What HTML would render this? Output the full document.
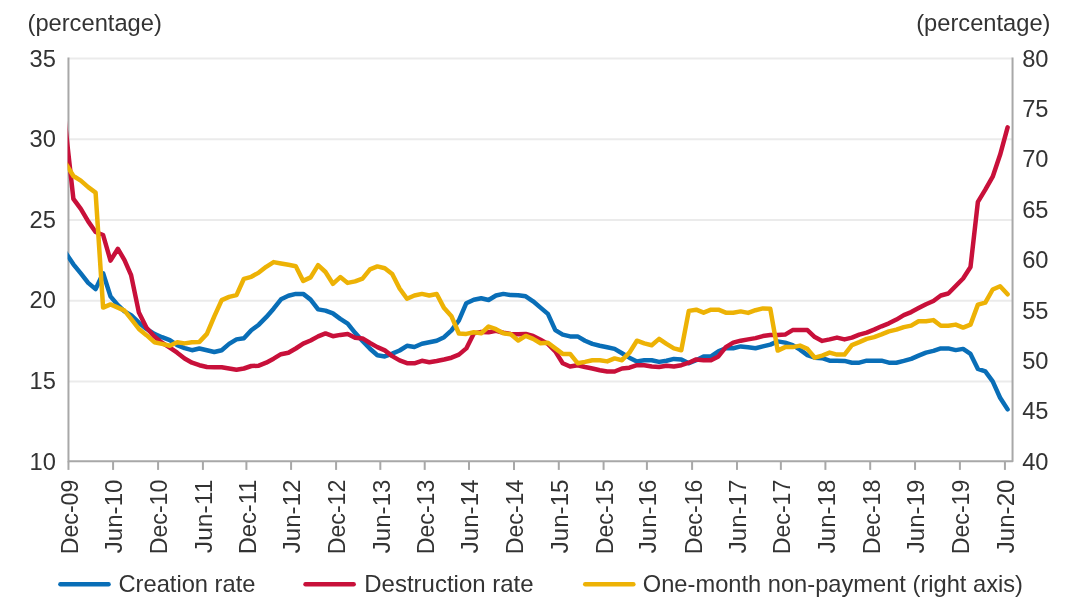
<!DOCTYPE html>
<html lang="en"><head><meta charset="utf-8"><title>Creation, destruction and non-payment rates</title>
<style>html,body{margin:0;padding:0;background:#fff}svg{display:block}</style></head>
<body>
<svg width="1080" height="599" viewBox="0 0 1080 599" font-family='"Liberation Sans", sans-serif' fill="#333333">
<rect width="1080" height="599" fill="#ffffff"/>
<line x1="68.46" x2="1012.55" y1="58.40" y2="58.40" stroke="#ebebeb" stroke-width="2"/>
<line x1="68.46" x2="1012.55" y1="139.35" y2="139.35" stroke="#ebebeb" stroke-width="2"/>
<line x1="68.46" x2="1012.55" y1="220.00" y2="220.00" stroke="#ebebeb" stroke-width="2"/>
<line x1="68.46" x2="1012.55" y1="300.70" y2="300.70" stroke="#ebebeb" stroke-width="2"/>
<line x1="68.46" x2="1012.55" y1="381.40" y2="381.40" stroke="#ebebeb" stroke-width="2"/>
<line x1="68.46" x2="68.46" y1="57.5" y2="462.2" stroke="#a8a8a8" stroke-width="2"/>
<polyline points="68.46,461.3 1012.55,461.3 1012.55,57.5" fill="none" stroke="#a8a8a8" stroke-width="2" stroke-linejoin="round"/>
<line x1="68.46" x2="68.46" y1="461.3" y2="469.90" stroke="#a8a8a8" stroke-width="2"/>
<text class="xl" transform="translate(77.86,479.6) rotate(-90)" text-anchor="end" font-size="23.2" textLength="74.75" lengthAdjust="spacingAndGlyphs">Dec-09</text>
<line x1="113.08" x2="113.08" y1="461.3" y2="469.90" stroke="#a8a8a8" stroke-width="2"/>
<text class="xl" transform="translate(122.48,479.6) rotate(-90)" text-anchor="end" font-size="23.2" textLength="73.60" lengthAdjust="spacingAndGlyphs">Jun-10</text>
<line x1="158.08" x2="158.08" y1="461.3" y2="469.90" stroke="#a8a8a8" stroke-width="2"/>
<text class="xl" transform="translate(167.48,479.6) rotate(-90)" text-anchor="end" font-size="23.2" textLength="74.75" lengthAdjust="spacingAndGlyphs">Dec-10</text>
<line x1="202.90" x2="202.90" y1="461.3" y2="469.90" stroke="#a8a8a8" stroke-width="2"/>
<text class="xl" transform="translate(212.30,479.6) rotate(-90)" text-anchor="end" font-size="23.2" textLength="73.60" lengthAdjust="spacingAndGlyphs">Jun-11</text>
<line x1="246.40" x2="246.40" y1="461.3" y2="469.90" stroke="#a8a8a8" stroke-width="2"/>
<text class="xl" transform="translate(255.80,479.6) rotate(-90)" text-anchor="end" font-size="23.2" textLength="74.75" lengthAdjust="spacingAndGlyphs">Dec-11</text>
<line x1="291.08" x2="291.08" y1="461.3" y2="469.90" stroke="#a8a8a8" stroke-width="2"/>
<text class="xl" transform="translate(300.48,479.6) rotate(-90)" text-anchor="end" font-size="23.2" textLength="73.60" lengthAdjust="spacingAndGlyphs">Jun-12</text>
<line x1="336.08" x2="336.08" y1="461.3" y2="469.90" stroke="#a8a8a8" stroke-width="2"/>
<text class="xl" transform="translate(345.48,479.6) rotate(-90)" text-anchor="end" font-size="23.2" textLength="74.75" lengthAdjust="spacingAndGlyphs">Dec-12</text>
<line x1="380.32" x2="380.32" y1="461.3" y2="469.90" stroke="#a8a8a8" stroke-width="2"/>
<text class="xl" transform="translate(389.72,479.6) rotate(-90)" text-anchor="end" font-size="23.2" textLength="73.60" lengthAdjust="spacingAndGlyphs">Jun-13</text>
<line x1="424.71" x2="424.71" y1="461.3" y2="469.90" stroke="#a8a8a8" stroke-width="2"/>
<text class="xl" transform="translate(434.11,479.6) rotate(-90)" text-anchor="end" font-size="23.2" textLength="74.75" lengthAdjust="spacingAndGlyphs">Dec-13</text>
<line x1="469.01" x2="469.01" y1="461.3" y2="469.90" stroke="#a8a8a8" stroke-width="2"/>
<text class="xl" transform="translate(478.41,479.6) rotate(-90)" text-anchor="end" font-size="23.2" textLength="73.60" lengthAdjust="spacingAndGlyphs">Jun-14</text>
<line x1="514.00" x2="514.00" y1="461.3" y2="469.90" stroke="#a8a8a8" stroke-width="2"/>
<text class="xl" transform="translate(523.40,479.6) rotate(-90)" text-anchor="end" font-size="23.2" textLength="74.75" lengthAdjust="spacingAndGlyphs">Dec-14</text>
<line x1="558.79" x2="558.79" y1="461.3" y2="469.90" stroke="#a8a8a8" stroke-width="2"/>
<text class="xl" transform="translate(568.19,479.6) rotate(-90)" text-anchor="end" font-size="23.2" textLength="73.60" lengthAdjust="spacingAndGlyphs">Jun-15</text>
<line x1="603.59" x2="603.59" y1="461.3" y2="469.90" stroke="#a8a8a8" stroke-width="2"/>
<text class="xl" transform="translate(612.99,479.6) rotate(-90)" text-anchor="end" font-size="23.2" textLength="74.75" lengthAdjust="spacingAndGlyphs">Dec-15</text>
<line x1="646.90" x2="646.90" y1="461.3" y2="469.90" stroke="#a8a8a8" stroke-width="2"/>
<text class="xl" transform="translate(656.30,479.6) rotate(-90)" text-anchor="end" font-size="23.2" textLength="73.60" lengthAdjust="spacingAndGlyphs">Jun-16</text>
<line x1="692.10" x2="692.10" y1="461.3" y2="469.90" stroke="#a8a8a8" stroke-width="2"/>
<text class="xl" transform="translate(701.50,479.6) rotate(-90)" text-anchor="end" font-size="23.2" textLength="74.75" lengthAdjust="spacingAndGlyphs">Dec-16</text>
<line x1="736.97" x2="736.97" y1="461.3" y2="469.90" stroke="#a8a8a8" stroke-width="2"/>
<text class="xl" transform="translate(746.37,479.6) rotate(-90)" text-anchor="end" font-size="23.2" textLength="73.60" lengthAdjust="spacingAndGlyphs">Jun-17</text>
<line x1="780.86" x2="780.86" y1="461.3" y2="469.90" stroke="#a8a8a8" stroke-width="2"/>
<text class="xl" transform="translate(790.26,479.6) rotate(-90)" text-anchor="end" font-size="23.2" textLength="74.75" lengthAdjust="spacingAndGlyphs">Dec-17</text>
<line x1="825.40" x2="825.40" y1="461.3" y2="469.90" stroke="#a8a8a8" stroke-width="2"/>
<text class="xl" transform="translate(834.80,479.6) rotate(-90)" text-anchor="end" font-size="23.2" textLength="73.60" lengthAdjust="spacingAndGlyphs">Jun-18</text>
<line x1="870.20" x2="870.20" y1="461.3" y2="469.90" stroke="#a8a8a8" stroke-width="2"/>
<text class="xl" transform="translate(879.60,479.6) rotate(-90)" text-anchor="end" font-size="23.2" textLength="74.75" lengthAdjust="spacingAndGlyphs">Dec-18</text>
<line x1="915.05" x2="915.05" y1="461.3" y2="469.90" stroke="#a8a8a8" stroke-width="2"/>
<text class="xl" transform="translate(924.45,479.6) rotate(-90)" text-anchor="end" font-size="23.2" textLength="73.60" lengthAdjust="spacingAndGlyphs">Jun-19</text>
<line x1="959.90" x2="959.90" y1="461.3" y2="469.90" stroke="#a8a8a8" stroke-width="2"/>
<text class="xl" transform="translate(969.30,479.6) rotate(-90)" text-anchor="end" font-size="23.2" textLength="74.75" lengthAdjust="spacingAndGlyphs">Dec-19</text>
<line x1="1004.93" x2="1004.93" y1="461.3" y2="469.90" stroke="#a8a8a8" stroke-width="2"/>
<text class="xl" transform="translate(1014.33,479.6) rotate(-90)" text-anchor="end" font-size="23.2" textLength="73.60" lengthAdjust="spacingAndGlyphs">Jun-20</text>
<defs><clipPath id="pc"><rect x="67.6" y="40" width="946.9499999999999" height="421.3"/></clipPath></defs>
<polyline clip-path="url(#pc)" points="58.6,242.3 66.0,253.3 73.4,264.3 80.8,273.4 88.2,282.9 95.6,289.1 103.1,273.3 110.5,296.4 117.9,305.1 124.5,311.4 131.1,315.1 138.9,322.7 146.5,328.9 154.3,333.9 162.0,337.2 169.8,340.2 177.2,345.2 184.6,348.2 192.0,350.2 199.4,348.5 206.9,350.2 214.3,352.0 221.7,350.2 229.1,343.9 236.5,339.4 243.9,338.2 251.3,330.2 258.8,324.7 266.2,317.2 273.6,308.7 281.0,299.3 288.4,295.8 295.8,293.9 303.2,293.9 310.6,299.6 318.1,309.4 325.5,310.6 332.9,313.4 340.3,318.9 347.7,323.6 355.1,332.8 362.5,340.9 370.0,348.7 377.4,355.3 384.8,356.4 392.2,353.6 399.6,350.5 407.0,345.8 414.4,347.0 421.9,343.8 429.3,342.3 436.7,340.7 444.1,337.2 451.5,330.3 458.9,320.3 466.3,303.2 473.8,299.7 481.2,298.2 488.6,300.0 496.0,295.5 503.4,293.9 510.8,295.1 518.2,295.2 525.7,296.3 533.1,301.3 540.5,307.6 547.9,313.9 555.3,330.1 562.7,334.6 570.1,336.4 577.6,336.4 585.0,340.7 592.4,343.9 599.8,345.7 607.2,347.2 614.6,348.9 622.0,353.2 629.4,357.7 636.9,361.4 644.3,360.2 651.7,360.2 659.1,361.9 666.5,360.7 673.9,358.9 681.3,359.4 688.8,363.2 696.2,360.2 703.6,356.4 711.0,356.4 718.4,351.4 725.8,348.2 733.2,348.2 740.7,346.4 748.1,347.2 755.5,348.2 762.9,346.4 770.3,344.6 777.7,341.4 785.1,342.6 792.6,345.1 800.0,349.6 807.4,355.1 814.8,357.7 822.2,358.2 829.6,360.7 837.0,360.7 844.5,360.9 851.9,362.7 859.3,362.7 866.7,360.7 874.1,360.7 881.5,360.7 888.9,362.7 896.4,362.7 903.8,360.9 911.2,358.9 918.6,355.6 926.0,352.6 933.4,350.9 940.8,348.4 948.3,348.4 955.7,350.1 963.1,348.9 970.5,353.9 977.9,368.9 985.3,371.4 992.7,381.4 1000.1,397.7 1007.6,409.4" fill="none" stroke="#096eb7" stroke-width="4.5" stroke-linejoin="round" stroke-linecap="round"/>
<polyline clip-path="url(#pc)" points="58.6,65.1 66.0,132.0 73.4,198.9 80.8,208.9 88.2,221.4 95.6,232.0 103.1,235.0 110.5,260.6 117.9,248.8 124.5,260.1 131.1,275.1 138.9,312.6 146.5,327.7 154.3,336.4 162.0,342.7 169.8,347.7 177.2,352.7 184.6,358.5 192.0,362.7 199.4,365.2 206.9,367.0 214.3,367.2 221.7,367.2 229.1,368.5 236.5,369.7 243.9,368.5 251.3,366.0 258.8,365.7 266.2,362.7 273.6,358.7 281.0,354.2 288.4,352.8 295.8,348.5 303.2,343.6 310.6,340.5 318.1,336.4 325.5,333.4 332.9,336.2 340.3,334.9 347.7,333.9 355.1,337.7 362.5,338.4 370.0,343.0 377.4,347.1 384.8,350.4 392.2,356.1 399.6,360.4 407.0,363.2 414.4,363.3 421.9,360.8 429.3,362.2 436.7,361.0 444.1,359.5 451.5,357.7 458.9,354.6 466.3,348.4 473.8,333.4 481.2,331.9 488.6,332.2 496.0,330.9 503.4,332.8 510.8,333.9 518.2,334.2 525.7,333.9 533.1,335.9 540.5,339.7 547.9,343.9 555.3,351.4 562.7,363.2 570.1,366.5 577.6,365.2 585.0,367.0 592.4,368.5 599.8,370.2 607.2,371.5 614.6,371.5 622.0,368.5 629.4,367.7 636.9,365.2 644.3,365.2 651.7,366.5 659.1,367.0 666.5,365.7 673.9,366.5 681.3,365.2 688.8,362.7 696.2,359.4 703.6,360.2 711.0,360.2 718.4,356.4 725.8,347.2 733.2,342.7 740.7,340.7 748.1,339.4 755.5,338.1 762.9,336.1 770.3,335.1 777.7,335.1 785.1,334.6 792.6,330.1 800.0,330.1 807.4,330.1 814.8,337.1 822.2,340.9 829.6,339.4 837.0,337.6 844.5,339.4 851.9,337.6 859.3,334.6 866.7,332.6 874.1,329.6 881.5,326.3 888.9,323.3 896.4,319.6 903.8,315.1 911.2,312.1 918.6,308.1 926.0,304.3 933.4,301.0 940.8,295.5 948.3,293.5 955.7,286.0 963.1,278.5 970.5,267.0 977.9,201.8 985.3,189.7 992.7,176.7 1000.1,154.8 1007.6,127.3" fill="none" stroke="#c8103a" stroke-width="4.5" stroke-linejoin="round" stroke-linecap="round"/>
<polyline clip-path="url(#pc)" points="58.6,152.0 66.0,164.0 73.4,176.0 80.8,180.6 88.2,187.1 95.6,192.6 103.1,307.6 110.5,304.4 117.9,307.6 124.5,310.6 131.1,318.9 138.9,328.9 146.5,335.2 154.3,342.2 162.0,343.9 169.8,345.7 177.2,342.2 184.6,343.4 192.0,342.2 199.4,341.9 206.9,333.9 214.3,316.4 221.7,300.1 229.1,296.9 236.5,295.1 243.9,278.8 251.3,276.8 258.8,272.6 266.2,266.8 273.6,262.1 281.0,263.5 288.4,264.8 295.8,266.2 303.2,280.9 310.6,277.4 318.1,265.1 325.5,272.0 332.9,283.8 340.3,277.1 347.7,282.9 355.1,281.4 362.5,278.6 370.0,269.4 377.4,266.4 384.8,268.2 392.2,274.0 399.6,288.5 407.0,298.7 414.4,295.5 421.9,293.9 429.3,295.5 436.7,294.0 444.1,308.1 451.5,316.3 458.9,333.5 466.3,333.9 473.8,332.3 481.2,333.3 488.6,326.5 496.0,329.2 503.4,333.2 510.8,334.3 518.2,340.5 525.7,335.9 533.1,338.9 540.5,343.2 547.9,342.7 555.3,348.4 562.7,353.9 570.1,353.9 577.6,363.2 585.0,361.9 592.4,360.2 599.8,360.2 607.2,361.4 614.6,358.4 622.0,360.2 629.4,352.7 636.9,340.7 644.3,343.4 651.7,345.2 659.1,338.9 666.5,343.9 673.9,348.4 681.3,350.2 688.8,310.9 696.2,309.7 703.6,312.7 711.0,309.7 718.4,309.7 725.8,312.7 733.2,312.7 740.7,311.4 748.1,312.9 755.5,310.2 762.9,308.4 770.3,308.8 777.7,350.6 785.1,347.1 792.6,347.1 800.0,345.6 807.4,348.9 814.8,357.7 822.2,355.6 829.6,352.6 837.0,354.6 844.5,354.6 851.9,345.1 859.3,342.1 866.7,338.9 874.1,337.1 881.5,334.4 888.9,331.4 896.4,329.6 903.8,327.1 911.2,325.6 918.6,321.3 926.0,321.3 933.4,320.1 940.8,325.8 948.3,325.8 955.7,324.6 963.1,327.6 970.5,324.6 977.9,304.6 985.3,302.6 992.7,289.5 1000.1,286.3 1007.6,294.3" fill="none" stroke="#edb205" stroke-width="4.5" stroke-linejoin="round" stroke-linecap="round"/>
<text class="yl" x="55.9" y="66.70" text-anchor="end" font-size="23.7">35</text>
<text class="yl" x="55.9" y="147.28" text-anchor="end" font-size="23.7">30</text>
<text class="yl" x="55.9" y="227.86" text-anchor="end" font-size="23.7">25</text>
<text class="yl" x="55.9" y="308.44" text-anchor="end" font-size="23.7">20</text>
<text class="yl" x="55.9" y="389.02" text-anchor="end" font-size="23.7">15</text>
<text class="yl" x="55.9" y="469.60" text-anchor="end" font-size="23.7">10</text>
<text class="yr" x="1022.2" y="66.70" font-size="23.7">80</text>
<text class="yr" x="1022.2" y="117.06" font-size="23.7">75</text>
<text class="yr" x="1022.2" y="167.43" font-size="23.7">70</text>
<text class="yr" x="1022.2" y="217.79" font-size="23.7">65</text>
<text class="yr" x="1022.2" y="268.15" font-size="23.7">60</text>
<text class="yr" x="1022.2" y="318.51" font-size="23.7">55</text>
<text class="yr" x="1022.2" y="368.88" font-size="23.7">50</text>
<text class="yr" x="1022.2" y="419.24" font-size="23.7">45</text>
<text class="yr" x="1022.2" y="469.60" font-size="23.7">40</text>
<text x="27.5" y="30.8" font-size="23.7">(percentage)</text>
<text x="1050.5" y="30.8" text-anchor="end" font-size="23.7">(percentage)</text>
<line x1="60.400000000000006" x2="108.60000000000001" y1="584.2" y2="584.2" stroke="#096eb7" stroke-width="4.4" stroke-linecap="round"/>
<text x="118.5" y="591.8" font-size="23.6" textLength="136.90" lengthAdjust="spacingAndGlyphs">Creation rate</text>
<line x1="305.5" x2="353.70000000000005" y1="584.2" y2="584.2" stroke="#c8103a" stroke-width="4.4" stroke-linecap="round"/>
<text x="364.3" y="591.8" font-size="23.6" textLength="169.30" lengthAdjust="spacingAndGlyphs">Destruction rate</text>
<line x1="585.2" x2="633.4" y1="584.2" y2="584.2" stroke="#edb205" stroke-width="4.4" stroke-linecap="round"/>
<text x="642.8" y="591.8" font-size="23.6" textLength="380.20" lengthAdjust="spacingAndGlyphs">One-month non-payment (right axis)</text>
</svg>
</body></html>
